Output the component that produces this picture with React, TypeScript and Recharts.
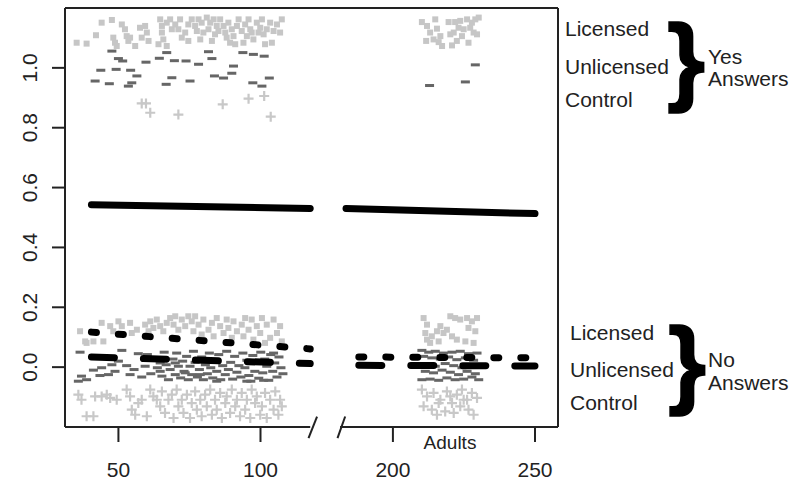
import React from "react";
import { ComposedChart, Scatter, XAxis, YAxis, ReferenceLine } from "recharts";

// x values are in the original units (break between 120 and 180)
const yesLicensed: [number, number][] = [
  [35.3,1.084],[38.8,1.081],[42.1,1.109],[44.1,1.151],[47.7,1.16],[48.2,1.101],[48.8,1.084],[49.4,1.073],
  [51.2,1.145],[52.3,1.129],[52.9,1.106],[53.5,1.09],[54.1,1.101],[55.9,1.073],[57.6,1.134],[58.2,1.101],
  [59.4,1.14],[60.0,1.118],[60.6,1.09],[64.1,1.079],[64.7,1.162],[65.3,1.14],[65.3,1.118],[65.8,1.095],
  [67.0,1.073],[67.0,1.151],[68.2,1.162],[68.8,1.129],[70.0,1.145],[71.1,1.129],[71.7,1.162],[72.3,1.101],
  [73.5,1.118],[74.6,1.09],[74.6,1.145],[75.8,1.162],[77.0,1.14],[77.6,1.123],[78.2,1.162],[78.8,1.095],
  [79.3,1.151],[79.9,1.118],[81.1,1.168],[81.7,1.129],[82.3,1.151],[82.9,1.09],[83.5,1.162],[84.0,1.112],
  [84.6,1.14],[85.2,1.123],[85.8,1.162],[87.0,1.14],[87.6,1.118],[88.1,1.101],[88.7,1.151],[89.3,1.084],
  [89.9,1.129],[90.5,1.106],[91.1,1.079],[91.7,1.14],[92.3,1.162],[93.4,1.123],[94.0,1.084],[94.6,1.145],
  [95.2,1.106],[95.8,1.162],[96.4,1.129],[96.9,1.118],[97.5,1.095],[98.7,1.151],[99.3,1.118],[99.9,1.134],
  [100.5,1.162],[101.1,1.112],[101.6,1.079],[102.2,1.129],[103.4,1.151],[104.0,1.084],[104.6,1.123],
  [105.8,1.145],[106.9,1.118],[107.5,1.162],
  [210.2,1.153],[212.0,1.140],[213.1,1.118],[214.9,1.162],[215.5,1.131],[216.1,1.086],[216.7,1.106],
  [217.3,1.073],[219.6,1.153],[220.2,1.112],[220.8,1.075],[221.4,1.118],[221.9,1.153],[223.1,1.134],
  [223.7,1.157],[224.3,1.106],[224.9,1.129],[226.1,1.162],[226.6,1.084],[227.2,1.134],[227.8,1.151],
  [228.4,1.118],[229.0,1.162],[229.6,1.112],[230.2,1.168],[211.7,1.090],[214.3,1.095],[222.5,1.090],
];

const yesUnlicensed: [number, number][] = [
  [47.7,1.056],[50.0,1.031],[51.5,1.023],[59.7,1.019],[64.4,1.032],[67.0,1.051],[69.7,1.024],[73.8,1.023],
  [78.2,1.012],[81.7,1.054],[82.9,1.031],[90.5,1.006],[93.8,1.051],[97.5,1.045],[101.3,1.039],[43.8,0.992],
  [49.2,0.995],[54.3,0.992],[56.5,0.973],[41.8,0.956],[46.8,0.947],[53.5,0.939],[54.7,0.95],[66.8,0.945],
  [68.8,0.967],[75.2,0.956],[83.8,0.973],[87.0,0.966],[89.9,0.982],[97.3,0.95],[100.5,0.939],[103.1,0.966],
  [212.9,0.941],[225.5,0.953],[229.0,1.01],
];

const yesControl: [number, number][] = [
  [58.2,0.881],[59.7,0.881],[61.2,0.85],[71.1,0.844],[86.7,0.878],[95.8,0.897],[101.3,0.906],[103.6,0.837],
];

const noLicensed: [number, number][] = [
  [36.5,0.120],[38.3,0.086],[38.8,0.081],[41.2,0.086],[44.1,0.148],[44.7,0.086],[47.1,0.137],[48.2,0.120],
  [50.0,0.153],[51.2,0.137],[54.1,0.148],[54.7,0.114],[56.5,0.125],[59.4,0.142],[60.6,0.120],[61.2,0.153],
  [62.3,0.131],[63.5,0.159],[64.7,0.137],[65.8,0.120],[67.0,0.148],[68.2,0.164],[69.4,0.142],[70.0,0.170],
  [71.1,0.125],[72.3,0.159],[73.5,0.137],[74.6,0.170],[75.8,0.153],[76.4,0.120],[77.0,0.170],[78.2,0.142],
  [79.3,0.109],[79.9,0.159],[81.7,0.125],[82.9,0.148],[83.5,0.103],[84.6,0.164],[85.8,0.137],[87.0,0.114],
  [88.1,0.159],[88.7,0.131],[89.9,0.098],[90.5,0.153],[91.7,0.120],[93.4,0.142],[94.0,0.103],[94.6,0.164],
  [95.8,0.125],[96.9,0.159],[97.5,0.092],[98.7,0.137],[99.9,0.114],[100.5,0.164],[101.6,0.081],[102.2,0.142],
  [103.4,0.098],[104.6,0.159],[105.8,0.114],[106.9,0.137],[107.5,0.086],
  [210.8,0.164],[212.0,0.142],[211.4,0.114],[213.7,0.103],[215.5,0.120],[216.7,0.137],[217.8,0.114],
  [219.0,0.125],[220.2,0.170],[221.9,0.164],[223.7,0.159],[226.1,0.164],[227.8,0.153],[229.6,0.164],
  [213.1,0.081],[222.5,0.092],[225.5,0.086],[228.4,0.081],[220.8,0.103],[216.1,0.086],[212.0,0.092],
  [226.6,0.131],[229.0,0.120],
];

const noUnlicensed: [number, number][] = [
  [35.9,-0.047],[36.5,0.050],[37.0,-0.030],[38.8,-0.042],[41.2,-0.010],[43.5,-0.028],[44.1,-0.002],
  [46.5,-0.025],[47.7,0.008],[48.8,-0.014],[50.0,0.020],[51.2,0.056],[52.9,0.005],[54.1,-0.025],
  [55.5,-0.008],[57.0,0.045],[58.2,-0.033],[59.4,0.003],[60.2,0.042],[61.4,-0.022],[62.9,0.023],
  [63.7,-0.002],[64.7,-0.014],[65.3,-0.030],[66.1,0.050],[66.8,0.008],[67.6,-0.042],[68.2,-0.008],
  [69.2,0.027],[70.0,-0.025],[70.5,0.047],[71.1,0.003],[71.9,-0.036],[72.6,0.020],[73.1,-0.014],
  [74.0,0.036],[74.6,-0.042],[75.2,0.003],[75.8,-0.025],[76.4,0.053],[77.0,0.016],[77.8,-0.033],
  [78.5,-0.008],[79.3,0.034],[79.9,-0.042],[80.6,0.008],[81.3,-0.022],[82.0,0.047],[82.5,-0.002],
  [83.2,-0.036],[84.0,0.023],[84.6,-0.014],[85.3,0.042],[86.0,-0.042],[86.7,0.005],[87.6,-0.025],
  [88.1,0.053],[88.7,-0.008],[89.5,0.016],[90.2,-0.040],[90.9,0.036],[91.7,-0.017],[92.4,0.005],
  [93.1,-0.033],[93.8,0.047],[94.5,-0.002],[95.2,0.023],[95.9,-0.028],[96.6,-0.047],[97.3,0.039],
  [98.0,-0.014],[98.7,0.012],[99.4,-0.037],[100.1,0.050],[100.8,-0.019],[101.5,0.027],[102.2,0.003],
  [102.9,-0.044],[103.6,0.042],[104.3,-0.014],[105.0,0.014],[105.8,-0.033],[106.5,0.034],[107.2,-0.002],
  [107.9,-0.022],[70.0,0.014],[78.8,-0.025],[95.2,-0.047],[101.1,-0.044],[84.6,-0.047],[73.5,-0.019],
  [64.7,0.014],[104.6,0.047],
  [210.2,0.056],[212.6,0.050],[214.9,0.053],[217.8,0.047],[220.8,0.050],[223.7,0.053],[226.6,0.045],
  [229.6,0.047],[210.8,0.036],[213.7,0.031],[216.7,0.027],[219.6,0.034],[222.5,0.025],[225.5,0.031],
  [228.4,0.023],[212.0,0.008],[214.9,0.003],[218.4,0.012],[221.4,0.005],[224.3,-0.002],[227.2,0.008],
  [230.2,0.003],[211.4,-0.014],[214.3,-0.019],[217.3,-0.010],[220.2,-0.017],[223.1,-0.025],[226.1,-0.014],
  [229.0,-0.022],[210.2,-0.042],[213.1,-0.040],[216.1,-0.044],[219.0,-0.036],[221.9,-0.042],[224.9,-0.040],
  [227.8,-0.033],[230.2,-0.042],
];

const noControl: [number, number][] = [
  [35.9,-0.092],[37.0,-0.109],[38.8,-0.164],[41.2,-0.164],[41.8,-0.098],[44.1,-0.098],[45.9,-0.092],
  [47.1,-0.103],[49.4,-0.109],[52.9,-0.075],[54.1,-0.098],[54.7,-0.142],[55.9,-0.159],[57.0,-0.120],
  [58.2,-0.109],[60.0,-0.164],[61.2,-0.075],[62.3,-0.098],[63.5,-0.109],[64.7,-0.131],[65.3,-0.081],
  [66.4,-0.153],[67.6,-0.109],[68.8,-0.092],[69.4,-0.170],[70.5,-0.075],[71.1,-0.131],[72.3,-0.109],
  [72.9,-0.153],[74.1,-0.092],[75.2,-0.170],[75.8,-0.120],[77.0,-0.081],[77.6,-0.142],[78.8,-0.109],
  [79.3,-0.164],[80.5,-0.092],[81.1,-0.131],[82.3,-0.075],[82.9,-0.159],[84.0,-0.109],[84.6,-0.142],
  [85.8,-0.086],[86.4,-0.170],[87.6,-0.120],[88.1,-0.098],[89.3,-0.153],[89.9,-0.075],[91.1,-0.131],
  [91.7,-0.109],[92.8,-0.164],[93.4,-0.086],[94.6,-0.142],[95.2,-0.109],[96.4,-0.170],[96.9,-0.075],
  [98.1,-0.120],[98.7,-0.098],[99.9,-0.159],[100.5,-0.131],[101.6,-0.086],[102.2,-0.170],[103.4,-0.109],
  [104.6,-0.142],[105.2,-0.081],[106.3,-0.159],[106.9,-0.109],[107.5,-0.131],
  [210.2,-0.075],[212.0,-0.098],[214.3,-0.086],[216.7,-0.109],[219.0,-0.081],[220.8,-0.120],[222.5,-0.092],
  [224.3,-0.075],[226.1,-0.109],[227.8,-0.086],[229.6,-0.103],[210.8,-0.131],[213.7,-0.142],[216.1,-0.120],
  [218.4,-0.148],[221.4,-0.153],[223.7,-0.131],[226.6,-0.142],[228.4,-0.159],[215.5,-0.159],[224.9,-0.109],
  [220.2,-0.098],
];

// fitted lines
const solidLeft: [number, number][] = [[40.5, 0.543], [117.5, 0.530]];
const solidRight: [number, number][] = [[183.5, 0.530], [250.0, 0.513]];
const licLineLeft: [number, number][] = [[40.5, 0.117], [117.5, 0.061]];
const licLineRight: [number, number][] = [[188.0, 0.034], [250.0, 0.031]];
const unlLineLeft: [number, number][] = [[40.5, 0.034], [117.5, 0.012]];
const unlLineRight: [number, number][] = [[188.0, 0.006], [250.0, 0.004]];

const xTickValues = [50, 100, 200, 250];
const yTickValues = [0, 0.2, 0.4, 0.6, 0.8, 1.0];

const GAP = 53.4; // removed span on the broken axis
const tx = (x: number) => (x > 150 ? x - GAP : x);
const toPts = (arr: [number, number][]) => arr.map(([x, y]) => ({ x: tx(x), y }));

const FONT = "'Liberation Sans', Arial, Helvetica, sans-serif";

const Square = (p: any) => <rect x={p.cx - 3} y={p.cy - 3} width={6} height={6} fill="#c6c6c6" />;
const Dash = (p: any) => <rect x={p.cx - 4.5} y={p.cy - 1.5} width={9} height={3} fill="#666666" />;
const Cross = (p: any) => (
  <path d={`M${p.cx - 5},${p.cy}h10M${p.cx},${p.cy - 5}v10`} stroke="#c8c8c8" strokeWidth={2.2} fill="none" />
);
const NoShape = () => <g />;

const YTick = (p: any) => {
  const x = p.x - 21;
  const y = p.y;
  return (
    <text x={x} y={y} transform={`rotate(-90, ${x}, ${y})`} textAnchor="middle" dy="0.36em"
      fontSize={21} fontFamily={FONT} fill="#222">
      {Number(p.payload.value).toFixed(1)}
    </text>
  );
};

const lineStyle = (dash?: string) => ({
  stroke: "#000",
  strokeWidth: 7,
  strokeLinecap: "round" as const,
  strokeDasharray: dash,
});

export default function App() {
  const axisLine = { stroke: "#222", strokeWidth: 2 };
  return (
    <div style={{ position: "absolute", left: 0, top: 0, width: 790, height: 494, background: "#fff" }}>
      <ComposedChart width={790} height={494} margin={{ top: 8, right: 232, bottom: 0, left: 5 }}>
        <XAxis type="number" dataKey="x" domain={[31.2, 204.7]} ticks={xTickValues.map(tx)}
          tickFormatter={(v: number) => String(Math.round(v > 120 ? v + GAP : v))}
          axisLine={false} tickLine={{ stroke: "#222", strokeWidth: 2 }} tickSize={15} tickMargin={20}
          height={67} allowDataOverflow
          tick={{ fontSize: 21, fontFamily: FONT, fill: "#222" }} />
        <YAxis type="number" dataKey="y" domain={[-0.2, 1.2]} ticks={yTickValues} width={60}
          axisLine={axisLine} tickLine={{ stroke: "#222", strokeWidth: 2 }} tickSize={13} allowDataOverflow
          tick={<YTick />} />
        <ReferenceLine y={1.2} stroke="#222" strokeWidth={2} ifOverflow="visible" />
        <ReferenceLine x={204.7} stroke="#222" strokeWidth={2} ifOverflow="visible" />
        <ReferenceLine segment={[{ x: 31.2, y: -0.2 }, { x: 117.5, y: -0.2 }]} stroke="#222" strokeWidth={2} ifOverflow="visible" />
        <ReferenceLine segment={[{ x: 128.0, y: -0.2 }, { x: 204.7, y: -0.2 }]} stroke="#222" strokeWidth={2} ifOverflow="visible" />
        <ReferenceLine segment={[{ x: 116.9, y: -0.237 }, { x: 119.9, y: -0.165 }]} stroke="#222" strokeWidth={2} ifOverflow="visible" />
        <ReferenceLine segment={[{ x: 127.1, y: -0.237 }, { x: 129.8, y: -0.165 }]} stroke="#222" strokeWidth={2} ifOverflow="visible" />

        <Scatter data={toPts(yesLicensed)} shape={Square} isAnimationActive={false} />
        <Scatter data={toPts(noLicensed)} shape={Square} isAnimationActive={false} />
        <Scatter data={toPts(yesControl)} shape={Cross} isAnimationActive={false} />
        <Scatter data={toPts(noControl)} shape={Cross} isAnimationActive={false} />
        <Scatter data={toPts(yesUnlicensed)} shape={Dash} isAnimationActive={false} />
        <Scatter data={toPts(noUnlicensed)} shape={Dash} isAnimationActive={false} />

        <Scatter data={toPts(solidLeft)} shape={NoShape} line={lineStyle()} lineType="joint" isAnimationActive={false} />
        <Scatter data={toPts(solidRight)} shape={NoShape} line={lineStyle()} lineType="joint" isAnimationActive={false} />
        <Scatter data={toPts(licLineLeft)} shape={NoShape} line={lineStyle("5 22")} lineType="joint" isAnimationActive={false} />
        <Scatter data={toPts(licLineRight)} shape={NoShape} line={lineStyle("5 22")} lineType="joint" isAnimationActive={false} />
        <Scatter data={toPts(unlLineLeft)} shape={NoShape} line={lineStyle("23 29")} lineType="joint" isAnimationActive={false} />
        <Scatter data={toPts(unlLineRight)} shape={NoShape} line={lineStyle("23 29")} lineType="joint" isAnimationActive={false} />
      </ComposedChart>
      <svg width={790} height={494} style={{ position: "absolute", left: 0, top: 0, pointerEvents: "none" }}
        fontFamily={FONT} fill="#222">
        <text x={450} y={449} fontSize={19} textAnchor="middle">Adults</text>
        <text x={565} y={36} fontSize={21}>Licensed</text>
        <text x={565} y={74} fontSize={21}>Unlicensed</text>
        <text x={565} y={107} fontSize={21}>Control</text>
        <text x={667} y={93} fontSize={98} fontWeight="bold" fill="#000" stroke="#000" strokeWidth={1.5}>{"}"}</text>
        <text x={708} y={64} fontSize={21}>Yes</text>
        <text x={708} y={86} fontSize={21}>Answers</text>
        <text x={570} y={340} fontSize={21}>Licensed</text>
        <text x={570} y={377} fontSize={21}>Unlicensed</text>
        <text x={570} y={410} fontSize={21}>Control</text>
        <text x={668} y={396} fontSize={98} fontWeight="bold" fill="#000" stroke="#000" strokeWidth={1.5}>{"}"}</text>
        <text x={708} y={367} fontSize={21}>No</text>
        <text x={708} y={390} fontSize={21}>Answers</text>
      </svg>
    </div>
  );
}
